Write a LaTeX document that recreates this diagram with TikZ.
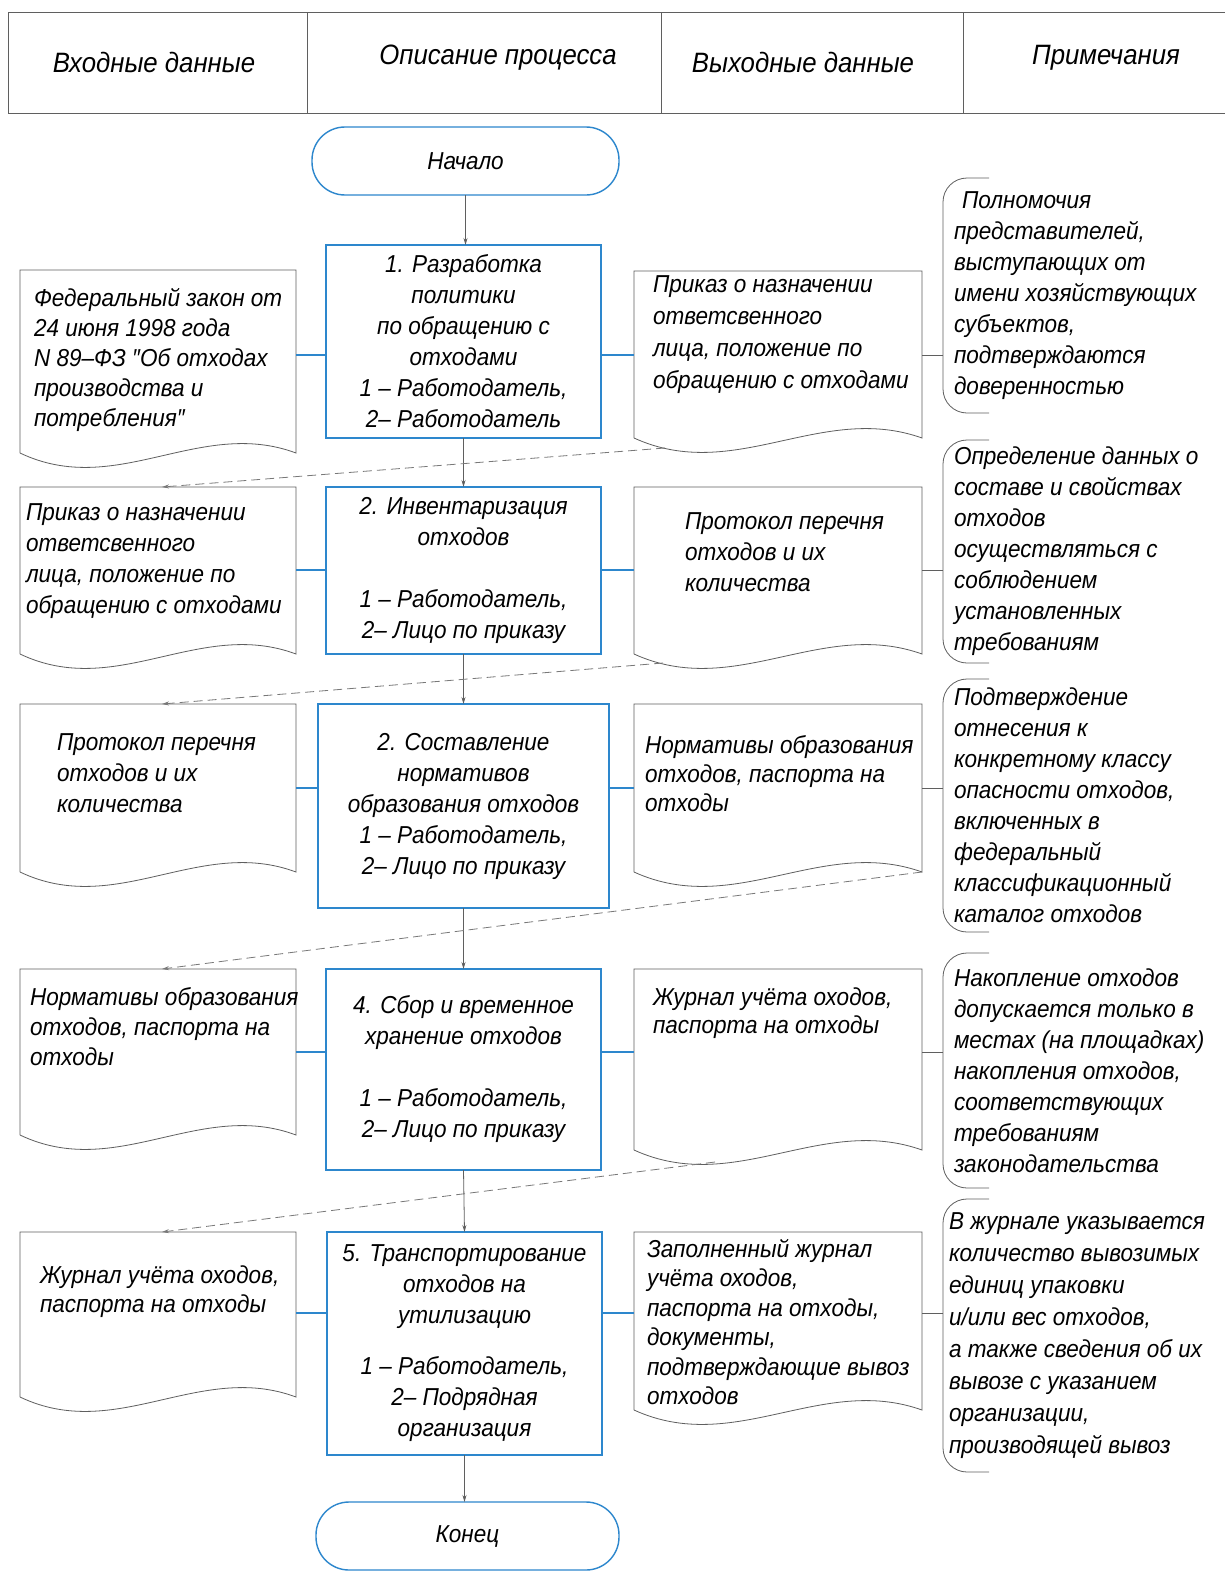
\documentclass[tikz,border=0pt]{standalone}
\usepackage{fontspec}
\setmainfont{Liberation Sans}[FakeStretch=0.92]
\usetikzlibrary{arrows.meta,calc}
\definecolor{flowblue}{RGB}{45,135,205}
\definecolor{linegray}{RGB}{95,95,95}
\definecolor{dashgray}{RGB}{120,120,120}
\tikzset{
  every node/.style={font=\itshape\fontsize{24.5}{31}\selectfont, inner sep=0pt, outer sep=0pt},
  procbox/.style={draw=flowblue, line width=1.4pt, rectangle, align=center, anchor=north west},
  term/.style={draw=flowblue, line width=1.4pt, rectangle, rounded corners=33pt, anchor=north west},
  docbody/.style={rectangle, anchor=north west},
  doctext/.style={align=left, anchor=north west, execute at begin node=\strut, font=\itshape\fontsize{24.5}{#1}\selectfont},
  doctext/.default=31,
  notebox/.style={rectangle, align=left, anchor=north west, inner xsep=11pt},
  hdrcell/.style={draw=linegray, line width=0.9pt, rectangle, anchor=north west},
  hdrtext/.style={font=\itshape\fontsize{28}{31}\selectfont},
  blueln/.style={draw=flowblue, line width=1.4pt},
  grayln/.style={draw=linegray, line width=0.8pt},
  flowarrow/.style={draw=linegray, line width=0.8pt, -{Stealth[length=7pt,width=4pt]}},
  dasharrow/.style={draw=dashgray, line width=0.8pt, dash pattern=on 9pt off 5pt, -{Stealth[length=7pt,width=4pt]}},
}
\newcommand{\docpath}[2]{%
  \draw[grayln] (#1.south west) -- (#1.north west) -- (#1.north east) -- (#1.south east)
    .. controls +(-0.35*#2,-36) and +(0.35*#2,46) .. (#1.south west);}
\newcommand{\notebracket}[1]{%
  \draw[grayln, rounded corners=24pt] ([xshift=46pt]#1.north west) -- (#1.north west)
    -- (#1.south west) -- ([xshift=46pt]#1.south west);}
\begin{document}
\begin{tikzpicture}[x=1pt,y=-1pt]
\useasboundingbox (0,0) rectangle (1225,1571);
\fill[white] (0,0) rectangle (1225,1571);

% header
\node[hdrcell, minimum width=299pt, minimum height=101pt] (H1) at (8,12) {};
\node[hdrcell, minimum width=354pt, minimum height=101pt] (H2) at (307,12) {};
\node[hdrcell, minimum width=302pt, minimum height=101pt] (H3) at (661,12) {};
\node[hdrcell, minimum width=270pt, minimum height=101pt] (H4) at (963,12) {};
\node[hdrtext] (H1t) at (154,62) {Входные данные};
\node[hdrtext] (H2t) at (498,58) {Описание процесса};
\node[hdrtext] (H3t) at (803,62) {Выходные данные};
\node[hdrtext] (H4t) at (1106,58) {Примечания};

% terminators
\node[term, minimum width=307pt, minimum height=68pt] (S) at (312,127) {Начало};
\node[term, minimum width=303pt, minimum height=68pt] (E) at (316,1502) {Конец};

% process boxes
\node[procbox, minimum width=275pt, minimum height=193pt] (B1) at (326,245)
  {1. Разработка\\политики\\по обращению с\\отходами\\1 – Работодатель,\\2– Работодатель};
\node[procbox, minimum width=275pt, minimum height=167pt] (B2) at (326,487)
  {2. Инвентаризация\\отходов\\[31pt]1 – Работодатель,\\2– Лицо по приказу};
\node[procbox, minimum width=291pt, minimum height=204pt] (B3) at (318,704)
  {2. Составление\\нормативов\\образования отходов\\1 – Работодатель,\\2– Лицо по приказу};
\node[procbox, minimum width=275pt, minimum height=201pt] (B4) at (326,969)
  {4. Сбор и временное\\хранение отходов\\[31pt]1 – Работодатель,\\2– Лицо по приказу};
\node[procbox, minimum width=275pt, minimum height=223pt] (B5) at (327,1232)
  {5. Транспортирование\\отходов на\\утилизацию\\[20pt]1 – Работодатель,\\2– Подрядная\\организация};

% document bodies
\node[docbody, minimum width=276pt, minimum height=183pt] (L1) at (20,270) {};
\node[docbody, minimum width=288pt, minimum height=167pt] (R1) at (634,271) {};
\node[docbody, minimum width=276pt, minimum height=167pt] (L2) at (20,487) {};
\node[docbody, minimum width=288pt, minimum height=167pt] (R2) at (634,487) {};
\node[docbody, minimum width=276pt, minimum height=168pt] (L3) at (20,704) {};
\node[docbody, minimum width=288pt, minimum height=168pt] (R3) at (634,704) {};
\node[docbody, minimum width=276pt, minimum height=166pt] (L4) at (20,969) {};
\node[docbody, minimum width=288pt, minimum height=181pt] (R4) at (634,969) {};
\node[docbody, minimum width=276pt, minimum height=165pt] (L5) at (20,1232) {};
\node[docbody, minimum width=288pt, minimum height=178pt] (R5) at (634,1232) {};
\docpath{L1}{276}\docpath{R1}{288}
\docpath{L2}{276}\docpath{R2}{288}
\docpath{L3}{276}\docpath{R3}{288}
\docpath{L4}{276}\docpath{R4}{288}
\docpath{L5}{276}\docpath{R5}{288}

% document texts
\node[doctext=30] (L1t) at (34,288) {Федеральный закон от\\24 июня 1998 года\\N 89–ФЗ ″Об отходах\\производства и\\потребления″};
\node[doctext=32] (R1t) at (653,276) {Приказ о назначении\\ответсвенного\\лица, положение по\\обращению с отходами};
\node[doctext] (L2t) at (26,504) {Приказ о назначении\\ответсвенного\\лица, положение по\\обращению с отходами};
\node[doctext] (R2t) at (685,513) {Протокол перечня\\отходов и их\\количества};
\node[doctext] (L3t) at (57,734) {Протокол перечня\\отходов и их\\количества};
\node[doctext=29] (R3t) at (645,736) {Нормативы образования\\отходов, паспорта на\\отходы};
\node[doctext=30] (L4t) at (30,988) {Нормативы образования\\отходов, паспорта на\\отходы};
\node[doctext=28] (R4t) at (653,988) {Журнал учёта оходов,\\паспорта на отходы};
\node[doctext=29] (L5t) at (40,1266) {Журнал учёта оходов,\\паспорта на отходы};
\node[doctext=29.5] (R5t) at (647,1239) {Заполненный журнал\\учёта оходов,\\паспорта на отходы,\\документы,\\подтверждающие вывоз\\отходов};

% notes
\node[notebox, minimum height=235pt] (N1) at (943,178)
  {\hspace{8pt}Полномочия\\представителей,\\выступающих от\\имени хозяйствующих\\субъектов,\\подтверждаются\\доверенностью};
\node[notebox, minimum height=223pt] (N2) at (943,440)
  {Определение данных о\\составе и свойствах\\отходов\\осуществляться с\\соблюдением\\установленных\\требованиям};
\node[notebox, minimum height=253pt] (N3) at (943,679)
  {Подтверждение\\отнесения к\\конкретному классу\\опасности отходов,\\включенных в\\федеральный\\классификационный\\каталог отходов};
\node[notebox, minimum height=235pt] (N4) at (943,953)
  {Накопление отходов\\допускается только в\\местах (на площадках)\\накопления отходов,\\соответствующих\\требованиям\\законодательства};
\node[notebox, minimum height=273pt, inner xsep=6pt, font=\itshape\fontsize{24.5}{32}\selectfont] (N5) at (943,1199)
  {В журнале указывается\\количество вывозимых\\единиц упаковки\\и/или вес отходов,\\а также сведения об их\\вывозе с указанием\\организации,\\производящей вывоз};
\notebracket{N1}\notebracket{N2}\notebracket{N3}\notebracket{N4}\notebracket{N5}

% row connectors
\coordinate (r1) at (0,355);
\coordinate (r2) at (0,570);
\coordinate (r3) at (0,788);
\coordinate (r4) at (0,1052);
\coordinate (r5) at (0,1313);
\foreach \i in {1,...,5}{
  \draw[blueln] (L\i.east |- r\i) -- (B\i.west |- r\i);
  \draw[blueln] (B\i.east |- r\i) -- (R\i.west |- r\i);
  \draw[grayln] (R\i.east |- r\i) -- (N\i.west |- r\i);
}

% flow arrows
\draw[flowarrow] (S.south) -- (S.south |- B1.north);
\draw[flowarrow] (B1.south) -- (B2.north);
\draw[flowarrow] (B2.south) -- (B3.north);
\draw[flowarrow] (B3.south) -- (B3.south |- B4.north);
\draw[flowarrow] (B4.south) -- (B5.north);
\draw[flowarrow] (B5.south) -- (B5.south |- E.north);

% dashed transfer arrows
\coordinate (d1) at ($(R1.south west)+(31,10)$);
\coordinate (d2) at ($(R2.south west)+(29,9)$);
\coordinate (d3) at (R3.south east);
\coordinate (d4) at ($(R4.south west)+(81,12)$);
\draw[dasharrow] (d1) -- ([xshift=4pt]L2.north);
\draw[dasharrow] (d2) -- ([xshift=4pt]L3.north);
\draw[dasharrow] (d3) -- ([xshift=4pt]L4.north);
\draw[dasharrow] (d4) -- ([xshift=4pt]L5.north);
\end{tikzpicture}
\end{document}
